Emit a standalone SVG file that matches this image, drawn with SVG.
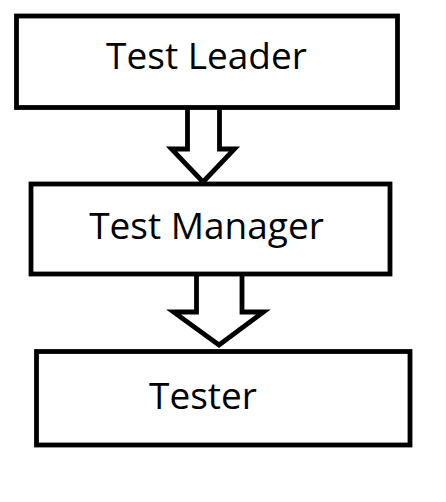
<svg xmlns="http://www.w3.org/2000/svg" width="446" height="502" viewBox="0 0 446 502">
<style>
.box{fill:#fff;stroke:#000;stroke-width:4.8}
.lbl{font-family:"Open Sans","Noto Sans",sans-serif;font-size:37px;fill:#000;text-anchor:middle}
.arr{fill:#fff;stroke:#000;stroke-width:4.8;stroke-linejoin:miter}
</style>
<rect width="446" height="502" fill="#fff"/>
<g id="connectors">
<polyline class="arr" points="187.5,108 187.5,149 171.5,149 203,182 234.5,149 219.5,149 219.5,108"/>
<polyline class="arr" points="196.5,275 196.5,312 173.5,312 219,345 263.5,312 242,312 242,275"/>
</g>
<g id="test-leader">
<rect class="box" x="16.5" y="16" width="381" height="91.5"/>
<text class="lbl" x="206.5" y="69">Test Leader</text>
</g>
<g id="test-manager">
<rect class="box" x="31" y="184" width="359" height="90"/>
<text class="lbl" x="206.5" y="239">Test Manager</text>
</g>
<g id="tester">
<rect class="box" x="36.5" y="351.5" width="373.5" height="93.5"/>
<text class="lbl" x="203" y="409">Tester</text>
</g>
</svg>
